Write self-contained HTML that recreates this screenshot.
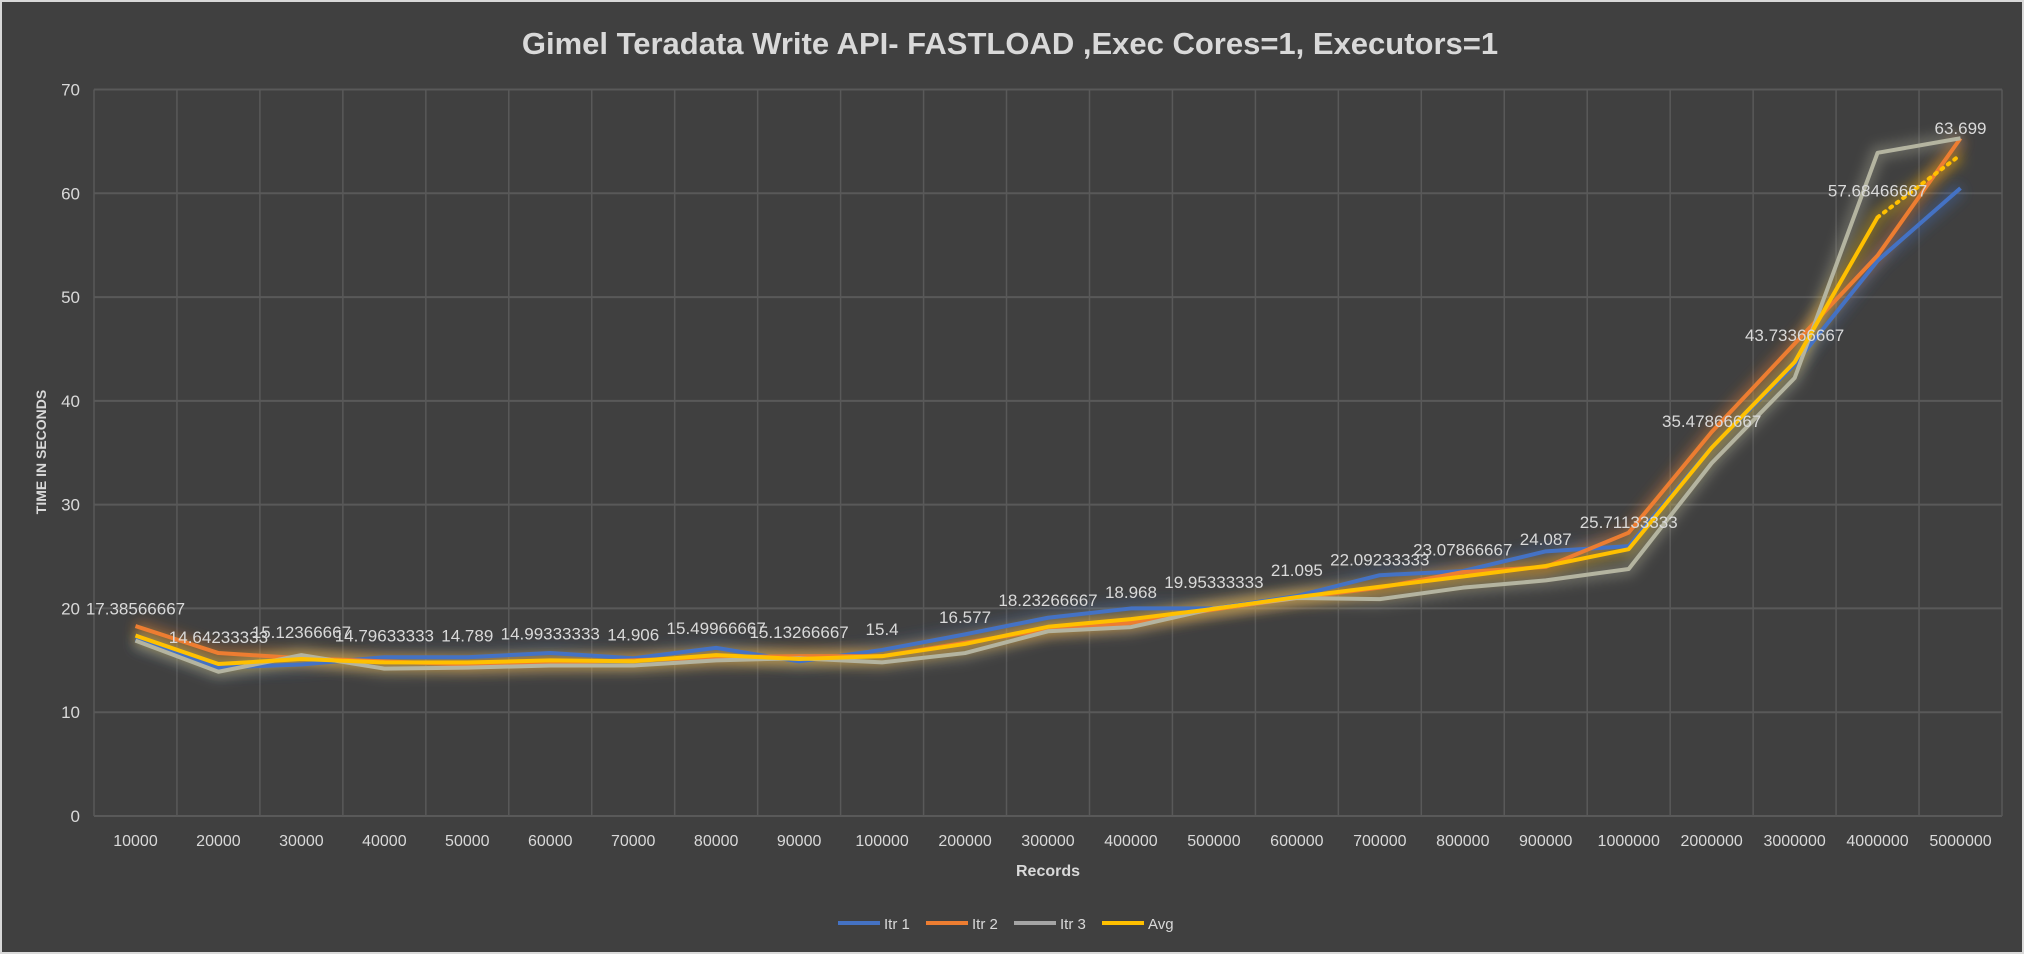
<!DOCTYPE html>
<html><head><meta charset="utf-8"><style>
body{margin:0;background:#404040;}
svg{display:block;font-family:"Liberation Sans",sans-serif;}
</style></head><body>
<svg id="chart" width="2024" height="954">
<defs>
<filter id="glow" x="-10%" y="-10%" width="120%" height="120%"><feGaussianBlur stdDeviation="6"/></filter>
</defs>
<rect x="1" y="1" width="2022" height="952" fill="#404040" stroke="#d9d9d9" stroke-width="2"/>
<text x="1010" y="54" text-anchor="middle" font-size="31" font-weight="bold" fill="#d9d9d9">Gimel Teradata Write API- FASTLOAD ,Exec Cores=1, Executors=1</text>
<g id="grid"></g><g id="glows"></g><g id="lines"></g><g id="labels"></g>
<text transform="translate(46,452) rotate(-90)" text-anchor="middle" font-size="14" font-weight="bold" fill="#d9d9d9">TIME IN SECONDS</text>
<text x="1048" y="876" text-anchor="middle" font-size="16" font-weight="bold" fill="#d9d9d9">Records</text>
<g id="legend"></g>
</svg>
<script>
const categories=["10000","20000","30000","40000","50000","60000","70000","80000","90000","100000","200000","300000","400000","500000","600000","700000","800000","900000","1000000","2000000","3000000","4000000","5000000"];
const itr1=[17.0,14.3,14.6,15.3,15.3,15.7,15.2,16.2,14.9,16.0,17.5,19.1,20.0,20.0,21.2,23.2,23.6,25.5,26.0,35.5,43.5,53.5,60.5];
const itr2=[18.3,15.7,15.2,14.9,14.6,14.8,15.0,15.3,15.4,15.4,16.7,18.0,18.6,19.9,21.0,22.0,23.5,24.0,27.3,37.0,45.5,54.0,65.3];
const itr3=[16.9,13.9,15.5,14.2,14.3,14.5,14.5,15.0,15.2,14.8,15.7,17.8,18.2,20.0,21.0,20.9,22.0,22.7,23.8,34.0,42.2,63.9,65.3];
const avg=[17.38566667,14.64233333,15.12366667,14.79633333,14.789,14.99333333,14.906,15.49966667,15.13266667,15.4,16.577,18.23266667,18.968,19.95333333,21.095,22.09233333,23.07866667,24.087,25.71133333,35.47866667,43.73366667,57.68466667,63.699];
const avgLabels=["17.38566667","14.64233333","15.12366667","14.79633333","14.789","14.99333333","14.906","15.49966667","15.13266667","15.4","16.577","18.23266667","18.968","19.95333333","21.095","22.09233333","23.07866667","24.087","25.71133333","35.47866667","43.73366667","57.68466667","63.699"];
const yTicks=[0,10,20,30,40,50,60,70];
const seriesNames=["Itr 1","Itr 2","Itr 3","Avg"];
const NS="http://www.w3.org/2000/svg";
const L=94,R=2002,T=89.5,B=816,YMAX=70;
const band=(R-L)/categories.length;
const xs=i=>L+band*(i+0.5);
const ys=v=>B-(v/YMAX)*(B-T);
function mk(tag,attrs,parent){const e=document.createElementNS(NS,tag);for(const k in attrs)e.setAttribute(k,attrs[k]);parent.appendChild(e);return e;}
const grid=document.getElementById('grid');
yTicks.forEach(t=>{
 const l=mk('line',{x1:L,x2:R,y1:ys(t),y2:ys(t),stroke:'#595959','stroke-width':2},grid);
 
 
 const tx=mk('text',{x:L-14,y:ys(t)+6,'text-anchor':'end','font-size':17,fill:'#d9d9d9'},grid);
 tx.textContent=t;
 
 
});
for(let i=0;i<=categories.length;i++){
 const l=mk('line',{x1:L+band*i,x2:L+band*i,y1:T,y2:B,stroke:'#595959','stroke-width':1.5},grid);
 
 
}
categories.forEach((c,i)=>{
 const tx=mk('text',{x:xs(i),y:846,'text-anchor':'middle','font-size':16,fill:'#d9d9d9'},grid);
 tx.textContent=c;
 
 
});
const data=[itr1,itr2,itr3,avg];
const colors=['#4472C4','#ED7D31','#B4B4A0','#FFC000'];
const glows=document.getElementById('glows'),lines=document.getElementById('lines');
data.forEach((d,s)=>{
 const pts=d.map((v,i)=>xs(i)+','+ys(v));
 const g=mk('polyline',{points:pts.join(' '),fill:'none',stroke:colors[s],'stroke-width':14,'stroke-opacity':0.35,filter:'url(#glow)'},glows);
 
 
 if(s===3){
  const p=mk('polyline',{points:pts.slice(0,d.length-1).join(' '),fill:'none',stroke:colors[s],'stroke-width':4,'stroke-linejoin':'round'},lines);
  
  
  const q=mk('polyline',{points:pts.slice(d.length-2).join(' '),fill:'none',stroke:colors[s],'stroke-width':4,'stroke-dasharray':'2 6','stroke-linecap':'round'},lines);
  
  
 }else{
  const p=mk('polyline',{points:pts.join(' '),fill:'none',stroke:colors[s],'stroke-width':4,'stroke-linejoin':'round'},lines);
  
  
 }
});
const labels=document.getElementById('labels');
avg.forEach((v,i)=>{
 const tx=mk('text',{x:xs(i),y:ys(v)-21,'text-anchor':'middle','font-size':17,fill:'#d9d9d9'},labels);
 tx.textContent=avgLabels[i];
 
 
});
const legend=document.getElementById('legend');
const lc=['#4472C4','#ED7D31','#A5A5A5','#FFC000'];
const lx=[838,926,1014,1102];
seriesNames.forEach((n,i)=>{
 const g=mk('g',{},legend);
 
 
 mk('line',{x1:lx[i],x2:lx[i]+42,y1:923,y2:923,stroke:lc[i],'stroke-width':4},g);
 const t=mk('text',{x:lx[i]+46,y:929,'font-size':15,fill:'#d9d9d9'},g);
 t.textContent=n;
});
</script>
</body></html>
